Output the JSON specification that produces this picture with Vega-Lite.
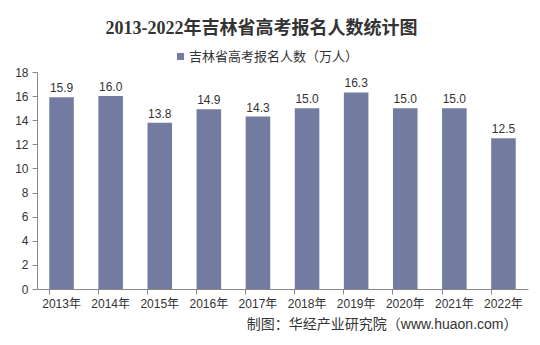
{
  "$schema": "https://vega.github.io/schema/vega-lite/v6.json",
  "width": 491,
  "height": 217,
  "autosize": {"type": "none"},
  "padding": {"left": 37, "top": 72, "right": 12, "bottom": 56},
  "background": "white",
  "config": {
    "view": {"stroke": null},
    "font": "Liberation Sans, Noto Sans CJK SC, sans-serif"
  },
  "title": {
    "text": "2013-2022年吉林省高考报名人数统计图",
    "font": "Liberation Serif, Noto Sans CJK SC, serif",
    "fontSize": 18,
    "fontWeight": "bold",
    "color": "#333333",
    "anchor": "middle",
    "offset": 12,
    "dx": -21
  },
  "data": {
    "values": [
      {"year": "2013年", "value": 15.9, "series": "吉林省高考报名人数（万人）"},
      {"year": "2014年", "value": 16.0, "series": "吉林省高考报名人数（万人）"},
      {"year": "2015年", "value": 13.8, "series": "吉林省高考报名人数（万人）"},
      {"year": "2016年", "value": 14.9, "series": "吉林省高考报名人数（万人）"},
      {"year": "2017年", "value": 14.3, "series": "吉林省高考报名人数（万人）"},
      {"year": "2018年", "value": 15.0, "series": "吉林省高考报名人数（万人）"},
      {"year": "2019年", "value": 16.3, "series": "吉林省高考报名人数（万人）"},
      {"year": "2020年", "value": 15.0, "series": "吉林省高考报名人数（万人）"},
      {"year": "2021年", "value": 15.0, "series": "吉林省高考报名人数（万人）"},
      {"year": "2022年", "value": 12.5, "series": "吉林省高考报名人数（万人）"}
    ]
  },
  "encoding": {
    "x": {
      "field": "year",
      "type": "nominal",
      "sort": null,
      "scale": {"paddingInner": 0.5, "paddingOuter": 0.25},
      "axis": {
        "labelAngle": 0,
        "labelFontSize": 12,
        "labelColor": "#333333",
        "labelPadding": 4,
        "domainColor": "#888888",
        "tickColor": "#888888",
        "tickSize": 5,
        "bandPosition": 0,
        "title": "制图：华经产业研究院（www.huaon.com）",
        "titleFontSize": 14,
        "titleFontWeight": "normal",
        "titleColor": "#333333",
        "titleAlign": "right",
        "titleAnchor": "end",
        "titleX": 480,
        "titleY": 35,
        "titleBaseline": "middle"
      }
    },
    "y": {
      "field": "value",
      "type": "quantitative",
      "scale": {"domain": [0, 18]},
      "axis": {
        "values": [0, 2, 4, 6, 8, 10, 12, 14, 16, 18],
        "grid": false,
        "title": null,
        "labelFontSize": 12,
        "labelColor": "#333333",
        "labelPadding": 4,
        "domainColor": "#888888",
        "tickColor": "#888888",
        "tickSize": 5
      }
    }
  },
  "layer": [
    {
      "mark": {"type": "bar"},
      "encoding": {
        "color": {
          "field": "series",
          "type": "nominal",
          "scale": {"range": ["#737ca0"]},
          "legend": {
            "title": null,
            "orient": "none",
            "legendX": 137,
            "legendY": -22,
            "symbolType": "square",
            "symbolSize": 50,
            "symbolStrokeWidth": 0,
            "labelFontSize": 13,
            "labelLimit": 400,
            "labelColor": "#333333",
            "labelOffset": 2
          }
        }
      }
    },
    {
      "mark": {"type": "text", "dy": -9, "fontSize": 12, "color": "#333333"},
      "encoding": {
        "text": {"field": "value", "type": "quantitative", "format": ".1f"}
      }
    }
  ]
}
